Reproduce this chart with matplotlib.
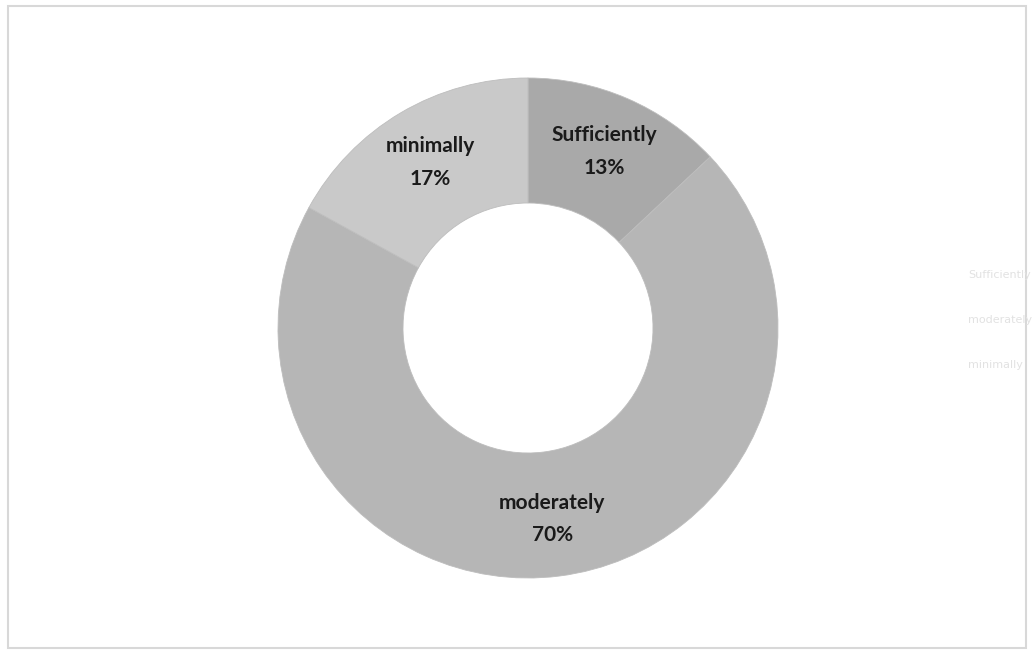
import matplotlib
matplotlib.use("Agg")
import matplotlib.pyplot as plt
from matplotlib.patches import Rectangle

categories = ["Sufficiently", "moderately", "minimally"]
values = [13, 70, 17]
colors = ["#a9a9a9", "#b6b6b6", "#c9c9c9"]

W, H, DPI = 1034, 652, 100
fig = plt.figure(figsize=(W / DPI, H / DPI), dpi=DPI)
fig.patch.set_facecolor("white")

# faint frame
fig.add_artist(Rectangle((8 / W, 4 / H), (1026 - 8) / W, (646 - 4) / H,
                         transform=fig.transFigure, fill=False,
                         edgecolor="#d8d8d8", linewidth=1.5))

cx, cy, r = 528, 328, 250
ax = fig.add_axes([(cx - r) / W, (H - cy - r) / H, 2 * r / W, 2 * r / H])

label_iter = iter(categories)

def fmt(pct):
    return f"{next(label_iter)}\n{pct:.0f}%"

wedges, texts, autotexts = ax.pie(
    values, colors=colors, startangle=90, counterclock=False,
    radius=1.0, wedgeprops=dict(width=0.5, edgecolor="#bdbdbd", linewidth=0.6),
    autopct=fmt, pctdistance=0.77,
    textprops=dict(fontsize=15, fontweight="bold", color="#1a1a1a",
                   family="Lato", linespacing=1.8))
ax.set_xlim(-1, 1)
ax.set_ylim(-1, 1)
ax.set_aspect("equal")
ax.axis("off")

# faint legend on the right
for i, name in enumerate(categories):
    fig.text(968 / W, 1 - (275 + i * 45) / H, name, fontsize=8,
             color="#e2e2e2", va="center", ha="left")

fig.savefig("out.png", dpi=DPI, facecolor="white")
